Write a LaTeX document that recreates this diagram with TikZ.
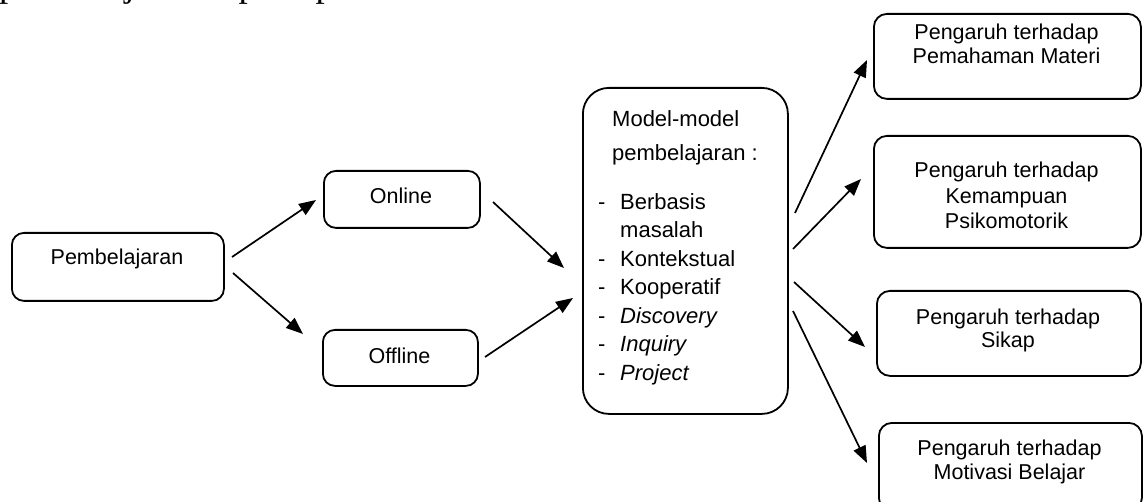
\documentclass[tikz,border=0pt]{standalone}
\usepackage{fontspec}
\setmainfont{Liberation Sans}
\newfontfamily\introfont{Liberation Serif}
\usetikzlibrary{arrows.meta}

\begin{document}
\begin{tikzpicture}[x=1pt,y=-1pt,
  box/.style={draw=black, line width=1.8pt, rounded corners=12pt, inner sep=0pt, anchor=north west},
  txt/.style={inner sep=0pt, align=center, anchor=base, font=\fontsize{21.5}{24}\selectfont},
  link/.style={line width=1.7pt, -{Triangle[length=17pt,width=13pt]}},
]
\useasboundingbox (0,0) rectangle (1145,502);
\clip (0,0) rectangle (1145,502);

% running text of the page above the figure
\node[inner sep=0pt, anchor=base west, font=\introfont\fontsize{37}{42}\selectfont] (intro) at (-1,-3)
  {pembelajaran seperti pada Gambar 1 berikut.};

% boxes
\node[box, minimum width=212pt, minimum height=68pt] (pb) at (11,232) {};
\node[box, minimum width=156pt, minimum height=57pt] (on) at (323,170) {};
\node[box, minimum width=155pt, minimum height=56pt] (off) at (322,329) {};
\node[box, rounded corners=26pt, minimum width=205pt, minimum height=326pt] (mdl) at (582,87) {};
\node[box, rounded corners=13pt, minimum width=267pt, minimum height=85pt] (r1) at (873,13) {};
\node[box, rounded corners=13pt, minimum width=267pt, minimum height=112pt] (r2) at (873,135) {};
\node[box, rounded corners=13pt, minimum width=264pt, minimum height=85pt] (r3) at (876,290) {};
\node[box, rounded corners=13pt, minimum width=263pt, minimum height=88pt] (r4) at (878,422) {};

% box texts (a multi-line node sits on the baseline of its last line)
\node[txt] (pbt) at (117,265) {Pembelajaran};
\node[txt] (ont) at (401,204) {Online};
\node[txt] (offt) at (399.5,363) {Offline};
\node[txt] (r1t) at (1006.5,64) {Pengaruh terhadap\\Pemahaman Materi};
\node[txt, font=\fontsize{21.5}{25.5}\selectfont] (r2t) at (1006.5,229) {Pengaruh terhadap\\Kemampuan\\Psikomotorik};
\node[txt] (r3t) at (1008,348) {Pengaruh terhadap\\Sikap};
\node[txt] (r4t) at (1009.5,479) {Pengaruh terhadap\\Motivasi Belajar};
\node[inner sep=0pt, align=left, anchor=base west, font=\fontsize{22}{28.5}\selectfont] (mdlt) at (598,380)
  {\hspace*{14pt}Model-model\\[4.5pt]
   \hspace*{14pt}pembelajaran :\\[20.5pt]
   \makebox[22pt][l]{-}Berbasis\\
   \hspace*{22pt}masalah\\
   \makebox[22pt][l]{-}Kontekstual\\
   \makebox[22pt][l]{-}Kooperatif\\
   \makebox[22pt][l]{-}\textit{Discovery}\\
   \makebox[22pt][l]{-}\textit{Inquiry}\\
   \makebox[22pt][l]{-}\textit{Project}};

% connector end points
\coordinate (a1s) at (232,257); \coordinate (a1e) at (316,200);
\coordinate (a2s) at (233,273); \coordinate (a2e) at (303,334);
\coordinate (a3s) at (493,202); \coordinate (a3e) at (564,268);
\coordinate (a4s) at (485,357); \coordinate (a4e) at (573,298);
\coordinate (a5s) at (795,213); \coordinate (a5e) at (867,60);
\coordinate (a6s) at (793,249); \coordinate (a6e) at (861,179);
\coordinate (a7s) at (794,282); \coordinate (a7e) at (865,347);
\coordinate (a8s) at (793,311); \coordinate (a8e) at (867,463);

\draw[link] (a1s) -- (a1e);
\draw[link] (a2s) -- (a2e);
\draw[link] (a3s) -- (a3e);
\draw[link] (a4s) -- (a4e);
\draw[link] (a5s) -- (a5e);
\draw[link] (a6s) -- (a6e);
\draw[link] (a7s) -- (a7e);
\draw[link] (a8s) -- (a8e);
\end{tikzpicture}
\end{document}
